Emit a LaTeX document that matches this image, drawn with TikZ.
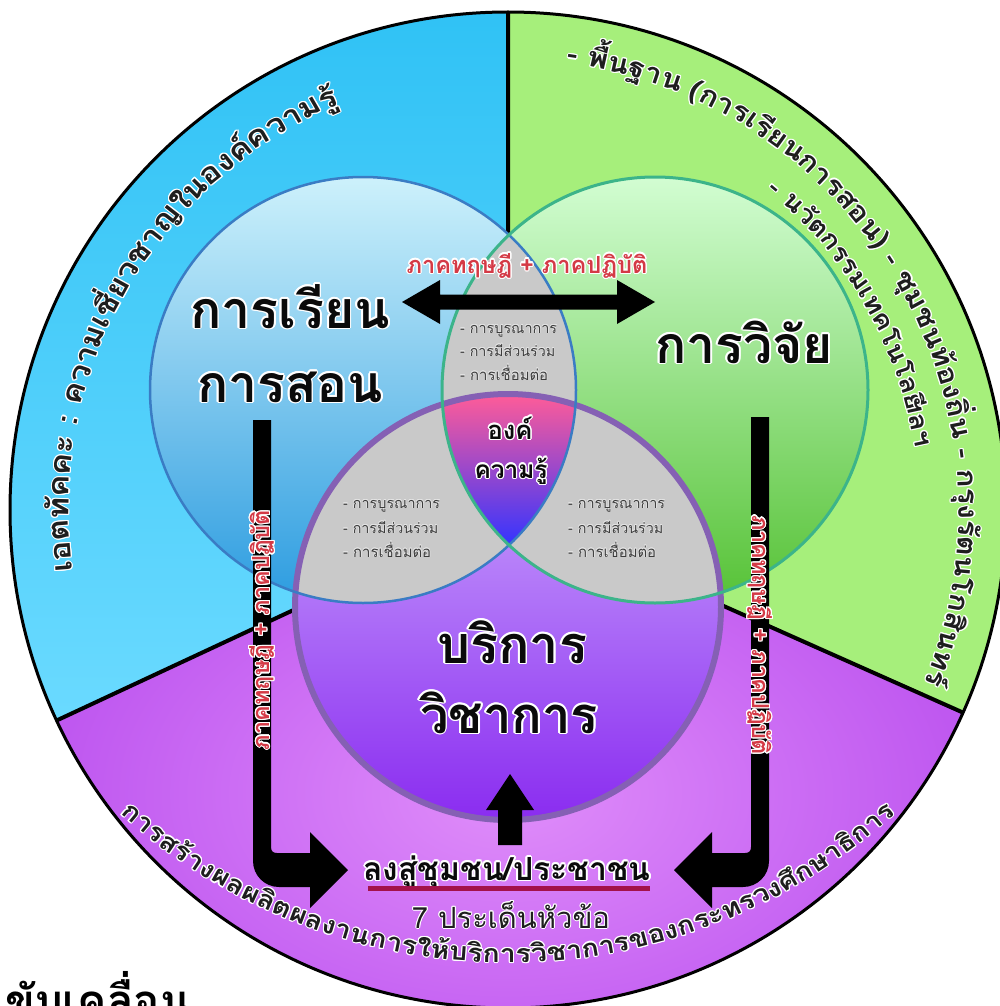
\documentclass[tikz,border=0pt]{standalone}
\usepackage{fontspec}
\usepackage{graphicx}
\usetikzlibrary{calc}
\newfontfamily\thai[Script=Thai]{Loma}

\definecolor{secBlueA}{HTML}{30C2F5}
\definecolor{secBlueB}{HTML}{6ADAFF}
\definecolor{secGreen}{HTML}{A6EF7B}
\definecolor{secPurpA}{HTML}{E08EFA}
\definecolor{secPurpB}{HTML}{BF58F0}
\definecolor{cBlueA}{HTML}{CDF1FB}
\definecolor{cBlueB}{HTML}{2C9CE0}
\definecolor{cGreenA}{HTML}{D2FDD2}
\definecolor{cGreenB}{HTML}{56C236}
\definecolor{cPurpA}{HTML}{D2B4FF}
\definecolor{cPurpB}{HTML}{8A2CF0}
\definecolor{lensGray}{HTML}{C9C9C9}
\definecolor{triA}{HTML}{FF5C98}
\definecolor{triB}{HTML}{3434FF}
\definecolor{bdBlue}{HTML}{3A7CC4}
\definecolor{bdGreen}{HTML}{3CB48A}
\definecolor{bdPurp}{HTML}{8560B4}
\definecolor{redTxt}{HTML}{D43A46}
\definecolor{ulRed}{HTML}{A3124A}
\definecolor{listGray}{HTML}{3C3C3C}
\definecolor{listHalo}{HTML}{E4E4E4}
\definecolor{haloW}{HTML}{FFFFFF}
\definecolor{txtK}{HTML}{0A0A0A}
\definecolor{txtK2}{HTML}{1E1E1E}

% halo node: #1 node options, #2 x, #3 y, #4 halo offset, #5 halo colour, #6 text colour, #7 content
\newcommand\haloNode[7]{%
  \foreach \hA in {0,30,...,330}{%
    \pgfmathsetmacro\hx{(#2)+(#4)*cos(\hA)}%
    \pgfmathsetmacro\hy{(#3)+(#4)*sin(\hA)}%
    \node[#1, text=#5] at (\hx,\hy) {#7};}%
  \node[#1, text=#6] at (#2,#3) {#7};}

\newsavebox\arcbox
\newdimen\arcTot
\def\arcbasefont{\thai\bfseries\fontsize{22}{26}\selectfont}
\def\arcV{0.88}
\makeatletter
\newcommand\arcprep[2]{%
  \global\arcTot=0pt
  \foreach \aCh [count=\aI] in #2{%
    \sbox\arcbox{\arcbasefont\aCh}%
    \global\advance\arcTot by \wd\arcbox
    \expandafter\xdef\csname arcw@#1@\aI\endcsname{\strip@pt\wd\arcbox}%
  }%
  \ifdim\arcTot<1pt \global\arcTot=1pt \fi
  \expandafter\xdef\csname arctot@#1\endcsname{\strip@pt\arcTot}%
}
\makeatother
% #1 id, #2 cx, #3 cy, #4 r, #5 start angle, #6 end angle, #7 dir, #8 list macro, #9 fixed scale (0 = fit)
\newcommand\arctext[9]{%
  \pgfmathsetmacro\arcL{abs((#6)-(#5))*pi/180*(#4)}%
  \pgfmathsetmacro\arcS{(#9)>0 ? (#9) : \arcL/\csname arctot@#1\endcsname}%
  \global\let\lastArcS\arcS
  \pgfmathsetmacro\arcSV{\arcS*\arcV}%
  \pgfmathsetmacro\aTH{0.62*22*\arcSV}%
  \pgfmathsetmacro\aTD{0.02*22*\arcSV}%
  \gdef\arcacc{0}%
  \foreach \aCh [count=\aI] in #8{%
    \pgfmathsetmacro\aW{\csname arcw@#1@\aI\endcsname*\arcS}%
    \pgfmathsetmacro\aAng{(#5)-(#7)*deg((\arcacc+\aW/2)/(#4))}%
    \pgfmathsetmacro\aPx{(#2)+(#4)*cos(\aAng)}%
    \pgfmathsetmacro\aPy{(#3)-(#4)*sin(\aAng)}%
    \pgfmathsetmacro\aRot{\aAng-(#7)*90}%
    \haloNode{inner sep=0pt, text height=\aTH pt, text depth=\aTD pt, rotate=\aRot}{\aPx}{\aPy}{1.1}{haloW}{txtK2}{\scalebox{\arcS}[\arcSV]{\arcbasefont\aCh}}%
    \pgfmathsetmacro\aTmp{\arcacc+\aW}%
    \global\let\arcacc\aTmp
  }%
}

\def\listA{เอต,ทัค,คะ,~:~,ความ,เชี่ยว,ชาญ,ใน,องค์,ความ,รู้}
\def\listB{-~,พื้น,ฐาน,~(การ,เรียน,การ,สอน),~-~,ชุม,ชน,ท้อง,ถิ่น,~-~,กรุง,รัตน,โก,สิน,ทร์}
\def\listC{-~,นวัต,กรรม,เทค,โน,โล,ยี}
\def\listE{ฯลฯ}
\def\listD{การ,สร้าง,ผล,ผลิต,ผล,งาน,การ,ให้,บริ,การ,วิชา,การ,ของ,กระ,ทรวง,ศึก,ษา,ธิ,การ}

\tikzset{
  lbl/.style={inner sep=0pt, anchor=base},
  lstl/.style={inner sep=0pt, anchor=base west},
  lens/.style={fill=lensGray},
  arrowshape/.style={fill=black},
}
\newcommand\bigtxt[2]{\resizebox{#1pt}{!}{\thai\bfseries\fontsize{52}{60}\selectfont #2}}
\newcommand\midtxt[2]{\resizebox{#1pt}{!}{\thai\bfseries\fontsize{24}{28}\selectfont #2}}
\newcommand\redtxt[2]{\resizebox{#1pt}{!}{\thai\bfseries\fontsize{20}{24}\selectfont #2}}
\newcommand\lsttxt[2]{\resizebox{#1pt}{!}{\thai\fontsize{14}{16}\selectfont #2}}

\begin{document}
\arcprep{A}{\listA}%
\arcprep{B}{\listB}%
\arcprep{C}{\listC}%
\arcprep{E}{\listE}%
\arcprep{D}{\listD}%
\begin{tikzpicture}[x=1pt,y=-1pt]
\path[use as bounding box] (0,0) rectangle (1000,1006);
\fill[white] (0,0) rectangle (1000,1006);
\begin{scope}
\clip (0,0) rectangle (1000,1006);
\coordinate (C) at (508,510);
% outer sectors
\shade[top color=secBlueA, bottom color=secBlueB] (C) -- ($(C)+(-90:498)$) arc[start angle=-90, end angle=-205, radius=498] -- cycle;
\fill[secGreen] (C) -- ($(C)+(24:498)$) arc[start angle=24, end angle=-90, radius=498] -- cycle;
\shade[inner color=secPurpA, outer color=secPurpB] (C) -- ($(C)+(-205:498)$) arc[start angle=-205, end angle=-336, radius=498] -- cycle;
\draw[line width=4pt] (C) -- ++(-90:498) (C) -- ++(-205:498) (C) -- ++(24:498);
\draw[line width=3pt] (C) circle[radius=498];
% venn circles
\coordinate (B) at (363,390);
\coordinate (G) at (655,390);
\coordinate (P) at (508,607);
\shade[top color=cBlueA, bottom color=cBlueB] (B) circle[radius=213];
\shade[top color=cGreenA, bottom color=cGreenB] (G) circle[radius=213];
\shade[top color=cPurpA, bottom color=cPurpB] (P) circle[radius=213];
\begin{scope}
\clip (B) circle[radius=213];
\fill[lens] (G) circle[radius=213];
\fill[lens] (P) circle[radius=213];
\end{scope}
\begin{scope}
\clip (G) circle[radius=213];
\fill[lens] (P) circle[radius=213];
\end{scope}
\begin{scope}
\clip (B) circle[radius=213];
\clip (G) circle[radius=213];
\clip (P) circle[radius=213];
\shade[top color=triA, bottom color=triB] (400,394) rectangle (620,545);
\end{scope}
\draw[bdPurp, line width=6pt] (P) circle[radius=213];
\draw[bdBlue, line width=2.5pt] (B) circle[radius=213];
\draw[bdGreen, line width=3pt] (G) circle[radius=213];
% arrows
\fill[arrowshape] (402,302) -- (440,280) -- (440,294.5) -- (617,294.5) -- (617,280) -- (655,302) -- (617,324) -- (617,309.5) -- (440,309.5) -- (440,324) -- cycle;
\fill[arrowshape] (253,420) -- (271,420) -- (271,847) .. controls (271,851) and (273,853) .. (277,853) -- (310,853) -- (310,832) -- (348,870) -- (310,908) -- (310,887) -- (279,887) .. controls (264.6,887) and (253,875.4) .. (253,861) -- cycle;
\fill[arrowshape] (769,417) -- (751,417) -- (751,847) .. controls (751,851) and (749,853) .. (745,853) -- (712,853) -- (712,832) -- (674,870) -- (712,908) -- (712,887) -- (743,887) .. controls (757.4,887) and (769,875.4) .. (769,861) -- cycle;
\fill[arrowshape] (498,845) -- (498,810) -- (486,810) -- (510,774) -- (534,810) -- (522,810) -- (522,845) -- cycle;
% main labels
\haloNode{lbl, name=learn1}{290}{328}{1.8}{haloW}{txtK}{\bigtxt{200}{การเรียน}}
\haloNode{lbl, name=learn2}{290}{402}{1.8}{haloW}{txtK}{\bigtxt{186}{การสอน}}
\haloNode{lbl, name=research}{744}{363}{1.8}{haloW}{txtK}{\bigtxt{178}{การวิจัย}}
\haloNode{lbl, name=serv1}{512}{663}{1.8}{haloW}{txtK}{\bigtxt{150}{บริการ}}
\haloNode{lbl, name=serv2}{509}{733}{1.8}{haloW}{txtK}{\bigtxt{178}{วิชาการ}}
\haloNode{lbl, name=know1}{510}{439}{1.3}{haloW}{txtK}{\midtxt{45}{องค์}}
\haloNode{lbl, name=know2}{511}{478}{1.3}{haloW}{txtK}{\midtxt{73}{ความรู้}}
\haloNode{lbl, name=theory}{527}{273}{1.2}{haloW}{redTxt}{\redtxt{241}{ภาคทฤษฎี + ภาคปฏิบัติ}}
\haloNode{inner sep=0pt, rotate=90, name=theoryL}{262}{630}{1.1}{haloW}{redTxt}{\redtxt{240}{ภาคทฤษฎี + ภาคปฏิบัติ}}
\haloNode{inner sep=0pt, rotate=-90, name=theoryR}{760}{635}{1.1}{haloW}{redTxt}{\redtxt{240}{ภาคทฤษฎี + ภาคปฏิบัติ}}
% lists
\haloNode{lstl, name=la1}{460}{333}{0.5}{listHalo}{listGray}{\lsttxt{97}{- การบูรณาการ}}
\haloNode{lstl, name=la2}{460}{356}{0.5}{listHalo}{listGray}{\lsttxt{95}{- การมีส่วนร่วม}}
\haloNode{lstl, name=la3}{460}{380}{0.5}{listHalo}{listGray}{\lsttxt{88}{- การเชื่อมต่อ}}
\haloNode{lstl, name=lb1}{343}{508}{0.5}{listHalo}{listGray}{\lsttxt{97}{- การบูรณาการ}}
\haloNode{lstl, name=lb2}{343}{533}{0.5}{listHalo}{listGray}{\lsttxt{95}{- การมีส่วนร่วม}}
\haloNode{lstl, name=lb3}{343}{557}{0.5}{listHalo}{listGray}{\lsttxt{88}{- การเชื่อมต่อ}}
\haloNode{lstl, name=lc1}{568}{508}{0.5}{listHalo}{listGray}{\lsttxt{97}{- การบูรณาการ}}
\haloNode{lstl, name=lc2}{568}{533}{0.5}{listHalo}{listGray}{\lsttxt{95}{- การมีส่วนร่วม}}
\haloNode{lstl, name=lc3}{568}{557}{0.5}{listHalo}{listGray}{\lsttxt{88}{- การเชื่อมต่อ}}
% community
\haloNode{lbl, name=comm}{507}{880}{1.5}{haloW}{txtK}{\resizebox{287pt}{!}{\thai\bfseries\fontsize{30}{34}\selectfont ลงสู่ชุมชน/ประชาชน}}
\draw[ulRed, line width=5pt] (368,888) -- (650,888);
\haloNode{lbl, name=seven}{511}{928}{1.0}{haloW}{txtK2}{\resizebox{198pt}{!}{\thai\fontsize{22}{26}\selectfont 7 ประเด็นหัวข้อ}}
% arc texts
\arctext{A}{508}{510}{448}{188}{112.5}{1}{\listA}{0}
\arctext{B}{508}{510}{459}{82.5}{-22.5}{1}{\listB}{0}
\pgfmathsetmacro\smallArcS{0.92*\lastArcS}
\arctext{C}{508}{510}{419}{51}{15}{1}{\listC}{\smallArcS}
\arctext{E}{508}{510}{419}{15.5}{9.5}{1}{\listE}{\smallArcS}
\arctext{D}{508}{385}{570}{227.8}{312.2}{-1}{\listD}{0}
% cut-off title
\node[inner sep=0pt, anchor=base west, text=black] (title) at (5,1016) {\resizebox{185pt}{!}{\thai\bfseries\fontsize{48}{54}\selectfont ขับเคลื่อน}};
\end{scope}
\end{tikzpicture}
\end{document}
